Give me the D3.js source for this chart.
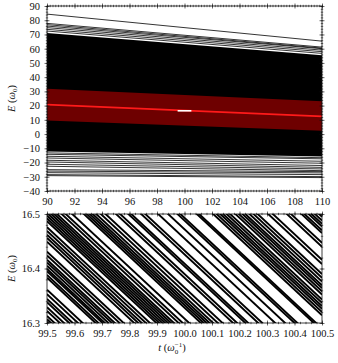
<!DOCTYPE html>
<html>
<head>
<meta charset="utf-8">
<script src="https://cdn.jsdelivr.net/npm/d3@7"></script>
<style>
  body { margin: 0; background: #fff; }
  text { font-family: "Liberation Serif", "DejaVu Serif", serif; fill: #111; }
</style>
</head>
<body>
<script>
// ---- data ----
// top panel: individual levels, energy at t = 90 and t = 110
const levels90  = [84.3, 77.8, 76.9, 75.9, 74.8, 73.6, 72.4,
                   -13.2, -14.2, -15.6, -16.8, -18.4, -19.6, -21.2, -22.6, -25.0, -26.0, -27.1, -28.5, -29.2];
const levels110 = [65.3, 61.1, 60.4, 60.0, 59.0, 57.9, 56.7,
                   -16.6, -17.4, -19.1, -20.5, -22.1, -23.4, -24.5, -25.7, -26.4, -27.3, -28.5, -29.9, -30.6];
// dense block of levels (upper / lower edge)
const bulk90  = [71.0, -12.3];
const bulk110 = [55.4, -15.8];
// red window and tracked state
const band90  = [31.8, 9.6];
const band110 = [23.0, 2.3];
const tracked = [20.7, 12.4];
// zoom window
const zoomT = [99.5, 100.5];
const zoomE = [16.3, 16.5];
// bottom panel: level energies at t = 99.5, common slope dE/dt
const zoomLevels = [
  16.302, 16.307, 16.313, 16.322, 16.329, 16.338, 16.344, 16.353, 16.361,
  16.383, 16.388, 16.395, 16.399, 16.405, 16.411, 16.416, 16.424, 16.431,
  16.449, 16.456, 16.462, 16.469, 16.476, 16.487, 16.492, 16.497,
  16.502, 16.507, 16.512, 16.517, 16.525, 16.532, 16.543,
  16.563, 16.568, 16.573, 16.578, 16.584, 16.592, 16.600,
  16.618, 16.625, 16.639, 16.644, 16.661, 16.668, 16.690, 16.707, 16.723, 16.728,
  16.756, 16.760, 16.784, 16.790, 16.796, 16.801, 16.807, 16.813,
  16.822, 16.828, 16.834, 16.839, 16.846, 16.853, 16.860,
  16.878, 16.886, 16.910, 16.917, 16.935, 16.940, 16.947, 16.952, 16.958, 16.965
];
const zoomSlope = -0.47;

// ticks
const xTicksTop = [90, 92, 94, 96, 98, 100, 102, 104, 106, 108, 110];
const yTicksTop = [90, 80, 70, 60, 50, 40, 30, 20, 10, 0, -10, -20, -30, -40];
const xTicksBot = [99.5, 99.6, 99.7, 99.8, 99.9, 100.0, 100.1, 100.2, 100.3, 100.4, 100.5];
const yTicksBot = [16.3, 16.4, 16.5];

const W = 338, H = 363;
const left = 47, right = 322;
const top1 = 6, bot1 = 191;
const top2 = 214, bot2 = 323;

const svg = d3.select("body").append("svg")
    .attr("width", W)
    .attr("height", H);

const minus = s => String(s).replace("-", "\u2212");

function frameTicks(g, x, y, w, h, xMajor, xMinor, yMajor, yMinor) {
    const rows = [
        [xMajor, 5, "x"], [xMinor, 2.4, "x"],
        [yMajor, 5, "y"], [yMinor, 2.4, "y"]
    ];
    rows.forEach(([vals, len, dir]) => {
        if (dir === "x") {
            [0, h].forEach(y0 => {
                g.append("g")
                    .attr("transform", `translate(0,${y0 - len / 2})`)
                    .call(d3.axisBottom(x).tickValues(vals).tickSize(len).tickSizeOuter(0).tickFormat(""))
                    .call(a => a.select(".domain").remove())
                    .selectAll("line").attr("stroke", "#111").attr("stroke-width", 0.6);
            });
        } else {
            [0, w].forEach(x0 => {
                g.append("g")
                    .attr("transform", `translate(${x0 - len / 2},0)`)
                    .call(d3.axisRight(y).tickValues(vals).tickSize(len).tickSizeOuter(0).tickFormat(""))
                    .call(a => a.select(".domain").remove())
                    .selectAll("line").attr("stroke", "#111").attr("stroke-width", 0.6);
            });
        }
    });
    g.append("rect")
        .attr("width", w).attr("height", h)
        .attr("fill", "none").attr("stroke", "#111").attr("stroke-width", 0.8);
}

function yLabel(cy) {
    const t = svg.append("text")
        .attr("transform", `translate(15,${cy}) rotate(-90)`)
        .attr("text-anchor", "middle")
        .style("font-size", "10.5px");
    t.append("tspan").attr("font-style", "italic").text("E");
    t.append("tspan").text(" (");
    t.append("tspan").attr("font-style", "italic").text("\u03C9");
    t.append("tspan").attr("dy", 2).style("font-size", "7px").text("0");
    t.append("tspan").attr("dy", -2).text(")");
}

// ---------- top panel ----------
const w = right - left;
const h1 = bot1 - top1;
const x1 = d3.scaleLinear().domain([90, 110]).range([0, w]);
const y1 = d3.scaleLinear().domain([-40, 90]).range([h1, 0]);

const g1 = svg.append("g").attr("transform", `translate(${left},${top1})`);
g1.append("clipPath").attr("id", "clip1")
    .append("rect").attr("width", w).attr("height", h1);
const p1 = g1.append("g").attr("clip-path", "url(#clip1)");

const quad = (a, b) => [[90, a[0]], [110, b[0]], [110, b[1]], [90, a[1]]];
const poly = d3.line().x(d => x1(d[0])).y(d => y1(d[1]));

p1.append("path")
    .attr("d", poly(quad(bulk90, bulk110)) + "Z")
    .attr("fill", "#000");

p1.selectAll(".lvl")
    .data(levels90.map((v, i) => [[90, v], [110, levels110[i]]]))
    .join("path")
    .attr("class", "lvl")
    .attr("d", poly)
    .attr("fill", "none")
    .attr("stroke", "#000")
    .attr("stroke-width", 0.8);

p1.append("path")
    .attr("d", poly(quad(band90, band110)) + "Z")
    .attr("fill", "#6e0000");

p1.append("path")
    .attr("d", poly([[90, tracked[0]], [110, tracked[1]]]))
    .attr("fill", "none")
    .attr("stroke", "#ff1a1a")
    .attr("stroke-width", 1.8);

p1.append("rect")
    .attr("x", x1(zoomT[0]))
    .attr("width", x1(zoomT[1]) - x1(zoomT[0]))
    .attr("y", y1(zoomE[1]) - 0.6)
    .attr("height", Math.max(1.6, y1(zoomE[0]) - y1(zoomE[1])))
    .attr("fill", "#fff");

frameTicks(g1, x1, y1, w, h1,
    xTicksTop, d3.range(90, 110.01, 0.2),
    yTicksTop, d3.range(-40, 90.01, 2));

g1.append("g")
    .attr("transform", `translate(0,${h1})`)
    .call(d3.axisBottom(x1).tickValues(xTicksTop).tickSize(0).tickPadding(7))
    .call(a => a.select(".domain").remove())
    .selectAll("text").style("font-size", "10.5px").attr("fill", "#111");

g1.append("g")
    .call(d3.axisLeft(y1).tickValues(yTicksTop).tickSize(0).tickPadding(7).tickFormat(minus))
    .call(a => a.select(".domain").remove())
    .selectAll("text").style("font-size", "10.5px").attr("fill", "#111");

yLabel((top1 + bot1) / 2);

// ---------- bottom panel ----------
const h2 = bot2 - top2;
const x2 = d3.scaleLinear().domain(zoomT).range([0, w]);
const y2 = d3.scaleLinear().domain(zoomE).range([h2, 0]);

const g2 = svg.append("g").attr("transform", `translate(${left},${top2})`);
g2.append("clipPath").attr("id", "clip2")
    .append("rect").attr("width", w).attr("height", h2);
const p2 = g2.append("g").attr("clip-path", "url(#clip2)");

const line2 = d3.line().x(d => x2(d[0])).y(d => y2(d[1]));
p2.selectAll(".zl")
    .data(zoomLevels.map(e => [[zoomT[0], e], [zoomT[1], e + zoomSlope * (zoomT[1] - zoomT[0])]]))
    .join("path")
    .attr("class", "zl")
    .attr("d", line2)
    .attr("fill", "none")
    .attr("stroke", "#000")
    .attr("stroke-width", 1.9);

frameTicks(g2, x2, y2, w, h2,
    xTicksBot, d3.range(99.5, 100.501, 0.02),
    yTicksBot, d3.range(16.3, 16.501, 0.02));

g2.append("g")
    .attr("transform", `translate(0,${h2})`)
    .call(d3.axisBottom(x2).tickValues(xTicksBot).tickSize(0).tickPadding(7).tickFormat(d3.format(".1f")))
    .call(a => a.select(".domain").remove())
    .selectAll("text").style("font-size", "10.5px").attr("fill", "#111");

g2.append("g")
    .call(d3.axisLeft(y2).tickValues(yTicksBot).tickSize(0).tickPadding(7).tickFormat(d3.format(".1f")))
    .call(a => a.select(".domain").remove())
    .selectAll("text").style("font-size", "10.5px").attr("fill", "#111");

yLabel((top2 + bot2) / 2);

// x title
const xt = svg.append("text")
    .attr("x", 172)
    .attr("y", 351)
    .attr("text-anchor", "middle")
    .style("font-size", "10.5px");
xt.append("tspan").attr("font-style", "italic").text("t");
xt.append("tspan").text(" (");
xt.append("tspan").attr("font-style", "italic").text("\u03C9");
xt.append("tspan").attr("dy", 2.5).style("font-size", "7px").text("0");
xt.append("tspan").attr("dx", -3.5).attr("dy", -7).style("font-size", "7px").text("\u22121");
xt.append("tspan").attr("dy", 4.5).text(")");
</script>
</body>
</html>
